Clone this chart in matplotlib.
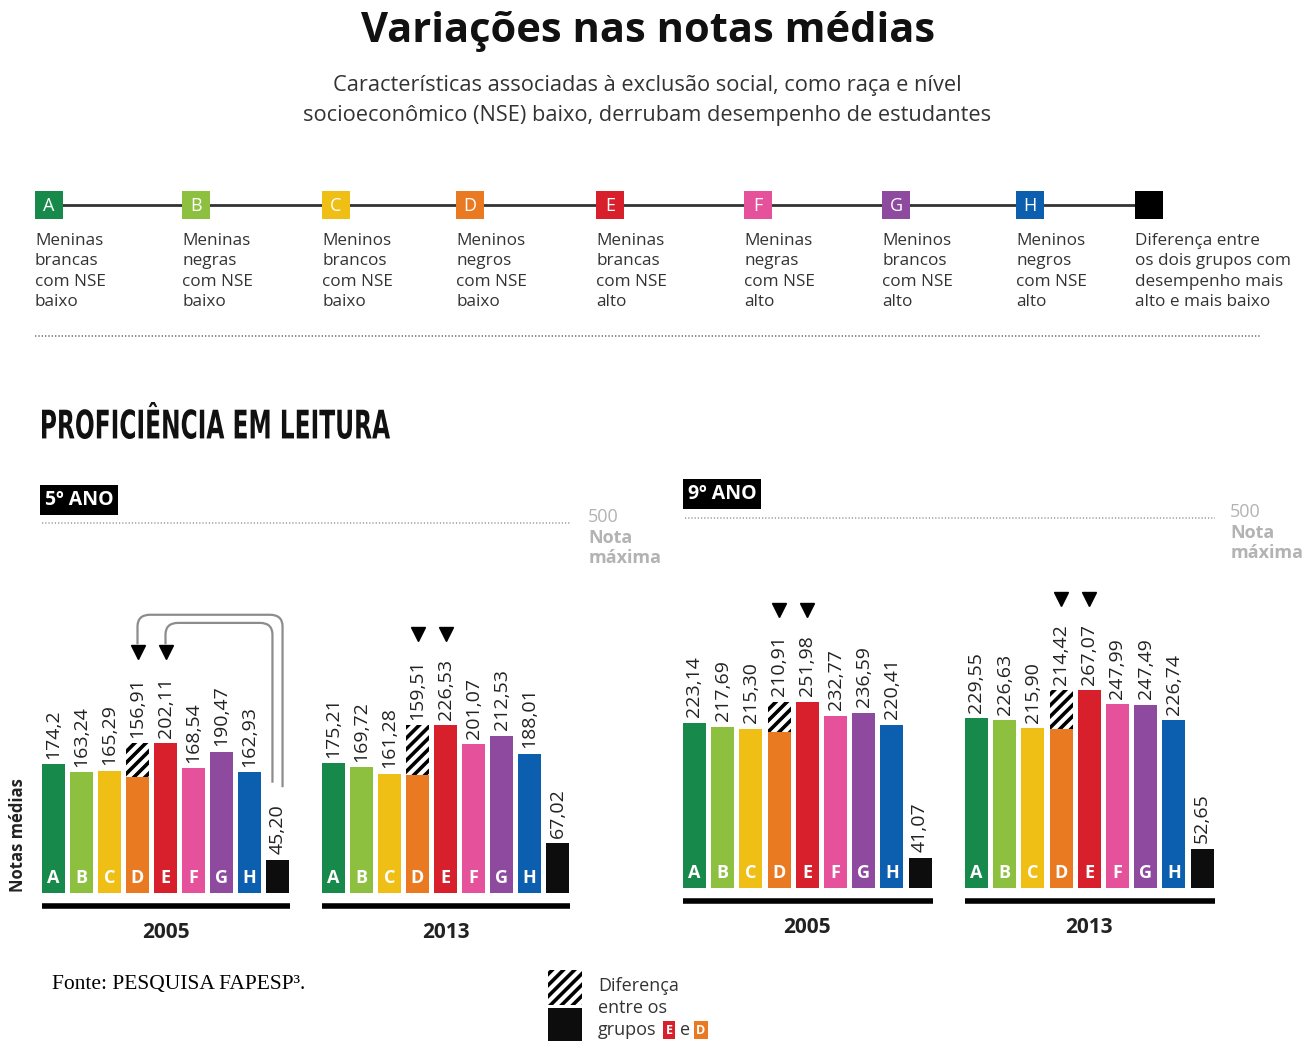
import numpy as np
import matplotlib
matplotlib.use('Agg')
import matplotlib.pyplot as plt
from matplotlib.patches import Rectangle, PathPatch
from matplotlib.path import Path
from matplotlib.lines import Line2D
from matplotlib.textpath import TextPath
from matplotlib.font_manager import FontProperties
from matplotlib.transforms import Affine2D, IdentityTransform

# data
groups = ['A', 'B', 'C', 'D', 'E', 'F', 'G', 'H']
colors = ['#17894a', '#8dc03f', '#f0bf16', '#e97a22', '#d7202b', '#e5519b', '#8e4a9e', '#0b5fae']
legend_labels = [
    'Meninas\nbrancas\ncom NSE\nbaixo',
    'Meninas\nnegras\ncom NSE\nbaixo',
    'Meninos\nbrancos\ncom NSE\nbaixo',
    'Meninos\nnegros\ncom NSE\nbaixo',
    'Meninas\nbrancas\ncom NSE\nalto',
    'Meninas\nnegras\ncom NSE\nalto',
    'Meninos\nbrancos\ncom NSE\nalto',
    'Meninos\nnegros\ncom NSE\nalto',
]
diff_label = 'Diferença entre\nos dois grupos com\ndesempenho mais\nalto e mais baixo'

years = ['2005', '2013']
ano5_2005 = [174.2, 163.24, 165.29, 156.91, 202.11, 168.54, 190.47, 162.93]
ano5_2013 = [175.21, 169.72, 161.28, 159.51, 226.53, 201.07, 212.53, 188.01]
ano9_2005 = [223.14, 217.69, 215.30, 210.91, 251.98, 232.77, 236.59, 220.41]
ano9_2013 = [229.55, 226.63, 215.90, 214.42, 267.07, 247.99, 247.49, 226.74]
diff5 = [45.20, 67.02]
diff9 = [41.07, 52.65]
nota_maxima = 500

label_override = {174.2: '174,2'}

W, H = 1316, 1041
plt.rcParams['font.family'] = ['Open Sans', 'DejaVu Sans']
plt.rcParams['hatch.linewidth'] = 2.6

fig = plt.figure(figsize=(W / 100, H / 100), dpi=100)


def px(x, y):
    return x / W, 1 - y / H


def ftext(x, y, s, **kw):
    fx, fy = px(x, y)
    return fig.text(fx, fy, s, **kw)


def fmt(v):
    if v in label_override:
        return label_override[v]
    return f'{v:.2f}'.replace('.', ',')


# header
ftext(648, 32, 'Variações nas notas médias', ha='center', va='center',
      fontsize=30, fontweight='bold', color='#111111')
ftext(647, 86, 'Características associadas à exclusão social, como raça e nível',
      ha='center', va='center', fontsize=15.7, color='#333333')
ftext(647, 116, 'socioeconômico (NSE) baixo, derrubam desempenho de estudantes',
      ha='center', va='center', fontsize=15.7, color='#333333')

# legend row
sq_left = [35, 182, 322, 456, 596, 744, 882, 1016, 1135]
sq = 28
fig.add_artist(Line2D([px(sq_left[0] + 14, 0)[0], px(sq_left[-1] + 14, 0)[0]],
                      [px(0, 205)[1]] * 2, color='#333333', lw=2))
for i, x in enumerate(sq_left):
    c = colors[i] if i < len(groups) else '#000000'
    fx, fy = px(x, 205 + sq / 2)
    fig.add_artist(Rectangle((fx, fy), sq / W, sq / H, transform=fig.transFigure,
                             facecolor=c, edgecolor='none', zorder=3))
    if i < len(groups):
        ftext(x + sq / 2, 206, groups[i], ha='center', va='center', color='white',
              fontsize=13, zorder=4)
    lab = legend_labels[i] if i < len(groups) else diff_label
    ftext(x, 233, lab, ha='left', va='top', fontsize=12.3, color='#333333',
          linespacing=1.36)

fig.add_artist(Line2D([px(35, 0)[0], px(1260, 0)[0]], [px(0, 336)[1]] * 2,
                      color='#777777', lw=1.2, linestyle=(0, (0.8, 1.2))))

# condensed section heading, squeezed to the reference box
tp = TextPath((0, 0), 'PROFICIÊNCIA EM LEITURA', size=40,
              prop=FontProperties(family='DejaVu Sans', weight='bold'))
ext = tp.get_extents()
x0h, x1h, top_h, bot_h = 42, 390, 402, 439
sx = (x1h - x0h) / ext.width
sy = (bot_h - top_h) / ext.height
tr = Affine2D().translate(-ext.x0, -ext.y0).scale(sx, sy).translate(x0h, H - bot_h)
fig.add_artist(PathPatch(tp, transform=tr + IdentityTransform(), facecolor='#111111',
                         edgecolor='none'))

ftext(18, 835, 'Notas médias', ha='center', va='center', rotation=90,
      fontsize=12, fontweight='bold', color='#222222')

# panels
scale = 0.74
ymin, ymax = -60, 560


def make_axes(left_px, pitch, base_px):
    xl = (-0.5, 18.5)
    width = (xl[1] - xl[0]) * pitch
    bottom = base_px - ymin * scale
    height = (ymax - ymin) * scale
    ax = fig.add_axes([left_px / W, 1 - bottom / H, width / W, height / H])
    ax.set_xlim(*xl)
    ax.set_ylim(ymin, ymax)
    ax.axis('off')
    return ax


def draw_year(ax, x0, vals, diff, year):
    xs = np.arange(len(vals)) + x0
    ax.bar(xs, vals, width=0.82, color=colors, linewidth=0, zorder=2)
    d_i, e_i = groups.index('D'), groups.index('E')
    ax.bar(xs[d_i], vals[e_i] - vals[d_i], bottom=vals[d_i], width=0.82,
           color='white', edgecolor='black', hatch='///', linewidth=0, zorder=2)
    xd = x0 + len(vals)
    ax.bar(xd, diff, width=0.82, color='#0d0d0d', linewidth=0, zorder=2)
    for k, (x, v, g) in enumerate(zip(xs, vals, groups)):
        top = max(v, vals[e_i]) if k == d_i else v
        ax.annotate(fmt(v), (x, top), xytext=(0, 4), textcoords='offset points',
                    rotation=90, ha='center', va='bottom', fontsize=14,
                    color='#222222')
        ax.text(x, 20, g, ha='center', va='center', color='white', fontsize=13,
                fontweight='bold', zorder=3)
    ax.annotate(fmt(diff), (xd, diff), xytext=(0, 4), textcoords='offset points',
                rotation=90, ha='center', va='bottom', fontsize=14, color='#222222')
    tri_y = max(vals[d_i], vals[e_i]) + 124
    ax.plot([xs[d_i], xs[e_i]], [tri_y, tri_y], linestyle='none', marker='v',
            markersize=10, color='black', zorder=4)
    ax.plot([x0 - 0.42, x0 + 8.45], [-17, -17], color='black', lw=4,
            solid_capstyle='butt')
    ax.text(x0 + 4, -53, year, ha='center', va='center', fontsize=15,
            fontweight='bold', color='#222222')
    return tri_y


def connector(ax, xs, y0, ytop, xe, yend):
    rx, ry = 0.45, 16
    verts = [(xs, y0), (xs, ytop - ry), (xs, ytop), (xs - rx, ytop),
             (xe + rx, ytop), (xe, ytop), (xe, ytop - ry), (xe, yend)]
    codes = [Path.MOVETO, Path.LINETO, Path.CURVE3, Path.CURVE3,
             Path.LINETO, Path.CURVE3, Path.CURVE3, Path.LINETO]
    ax.add_patch(PathPatch(Path(verts, codes), facecolor='none',
                           edgecolor='#8c8c8c', lw=1.6, zorder=1))


def nota_max(ax, x_left, x_right, x_text):
    ax.plot([x_left, x_right], [nota_maxima, nota_maxima], color='#9a9a9a', lw=1.1,
            linestyle=(0, (0.8, 1.3)))
    ax.annotate(str(nota_maxima), (x_text, nota_maxima), xytext=(0, 4),
                textcoords='offset points', ha='left', va='center', fontsize=13,
                color='#b3b3b3', annotation_clip=False)
    ax.annotate('Nota\nmáxima', (x_text, nota_maxima), xytext=(0, -4),
                textcoords='offset points', ha='left', va='top', fontsize=13,
                fontweight='bold', color='#b3b3b3', linespacing=1.15,
                annotation_clip=False)


# 5º ano
ax5 = make_axes(39.5, 28.0, 893)
tri = draw_year(ax5, 0, ano5_2005, diff5[0], years[0])
draw_year(ax5, 10, ano5_2013, diff5[1], years[1])
connector(ax5, 8.18, 143, 376, groups.index('D'), tri + 10)
connector(ax5, 7.82, 149, 365, groups.index('E'), tri + 10)
nota_max(ax5, -0.41, 18.45, 19.1)

# 9º ano
ax9 = make_axes(680.4, 28.2, 888)
draw_year(ax9, 0, ano9_2005, diff9[0], years[0])
draw_year(ax9, 10, ano9_2013, diff9[1], years[1])
nota_max(ax9, -0.34, 18.46, 19.0)

ftext(45, 500, '5º ANO', ha='left', va='center', fontsize=14, fontweight='bold',
      color='white', bbox=dict(boxstyle='square,pad=0.25', facecolor='black',
                               edgecolor='none'))
ftext(688, 494, '9º ANO', ha='left', va='center', fontsize=14, fontweight='bold',
      color='white', bbox=dict(boxstyle='square,pad=0.25', facecolor='black',
                               edgecolor='none'))

# footer
ftext(52, 985, 'Fonte: PESQUISA FAPESP³.', ha='left', va='center', fontsize=15.5,
      color='black', family=['Liberation Serif', 'DejaVu Serif'])

fx, fy = px(548, 1005)
fig.add_artist(Rectangle((fx, fy), 34 / W, 35 / H, transform=fig.transFigure,
                         facecolor='white', edgecolor='black', hatch='///', lw=0))
fx, fy = px(548, 1041)
fig.add_artist(Rectangle((fx, fy), 34 / W, 33 / H, transform=fig.transFigure,
                         facecolor='#0d0d0d', edgecolor='none'))
ftext(598, 986, 'Diferença', ha='left', va='center', fontsize=13, color='#333333')
ftext(598, 1008, 'entre os', ha='left', va='center', fontsize=13, color='#333333')
ftext(598, 1030, 'grupos', ha='left', va='center', fontsize=13, color='#333333')
ftext(666, 1030, 'E', ha='left', va='center', fontsize=9, fontweight='bold',
      color='white',
      bbox=dict(boxstyle='square,pad=0.2', facecolor=colors[4], edgecolor='none'))
ftext(680, 1030, 'e', ha='left', va='center', fontsize=13, color='#333333')
ftext(696, 1030, 'D', ha='left', va='center', fontsize=9, fontweight='bold',
      color='white',
      bbox=dict(boxstyle='square,pad=0.2', facecolor=colors[3], edgecolor='none'))

fig.savefig('out.png', dpi=100, facecolor='white')
